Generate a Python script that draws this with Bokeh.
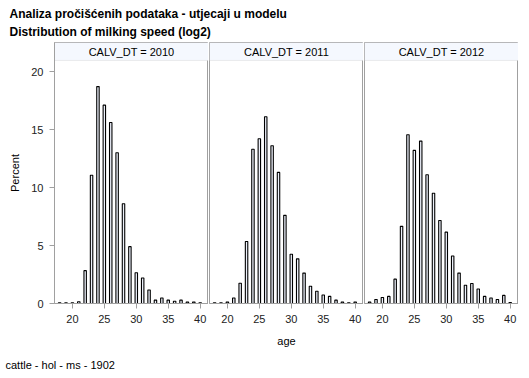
from bokeh.plotting import figure
from bokeh.layouts import column, row
from bokeh.models import Range1d, BoxAnnotation, Label, FixedTicker
from bokeh.core.properties import value
from bokeh.embed import file_html
from bokeh.resources import INLINE

# ---- data ----
title_1 = "Analiza pročišćenih podataka - utjecaji u modelu"
title_2 = "Distribution of milking speed (log2)"
footnote = "cattle - hol - ms - 1902"
panel_labels = ["CALV_DT = 2010", "CALV_DT = 2011", "CALV_DT = 2012"]
ages = list(range(18, 41))
pct_2010 = [0.06, 0.06, 0.06, 0.15, 2.83, 11.05, 18.7, 17.1, 15.6, 13.0, 8.6, 4.9,
            2.65, 2.2, 1.17, 0.29, 0.47, 0.29, 0.2, 0.29, 0.12, 0.12, 0.06]
pct_2011 = [0.06, 0.06, 0.12, 0.47, 1.75, 5.35, 13.3, 14.2, 16.1, 13.6, 11.3, 7.6,
            4.25, 3.85, 2.62, 1.49, 1.05, 0.73, 0.61, 0.29, 0.12, 0.06, 0.12]
pct_2012 = [0.12, 0.35, 0.52, 0.61, 2.1, 6.65, 14.55, 13.2, 14.0, 11.1, 9.5, 7.15,
            6.15, 4.1, 2.62, 1.57, 1.72, 1.25, 0.61, 0.47, 0.35, 0.7, 0.09]
series = [pct_2010, pct_2011, pct_2012]
y_ticks = [0, 5, 10, 15, 20]
x_ticks = [20, 25, 30, 35, 40]

FONT_NAME = "Liberation Sans"
FONT = value(FONT_NAME)
GRAY = "#a0a0a0"


def text_block(w, h):
    f = figure(width=w, height=h, x_range=Range1d(0, w), y_range=Range1d(h, 0),
               x_axis_type=None, y_axis_type=None, toolbar_location=None,
               output_backend="svg", min_border=0, outline_line_color=None,
               title=None)
    f.grid.visible = False
    return f


# ---- title block ----
top = text_block(518, 42)
top.text(x=[9, 9], y=[13, 31], text=[title_1, title_2], text_font=FONT,
         text_font_size="12px", text_font_style="bold", text_baseline="alphabetic",
         text_align="left", text_color="black")

# ---- panels ----
panels = []
for i, (lab, vals) in enumerate(zip(panel_labels, series)):
    first = i == 0
    p = figure(width=208 if first else 155, height=308,
               x_range=Range1d(17.2, 41.3), y_range=Range1d(0, 22.5),
               toolbar_location=None, output_backend="svg", title=None,
               y_axis_type="linear" if first else None,
               min_border_left=54 if first else 1, min_border_right=0,
               min_border_top=0, min_border_bottom=47)
    p.grid.visible = False
    p.outline_line_color = GRAY
    p.background_fill_color = "white"
    p.border_fill_color = "white"

    hdr = BoxAnnotation(bottom=20.95, fill_color="#F5F8FE", fill_alpha=1.0,
                        line_color="#c4c4c4", line_width=1, level="underlay")
    p.add_layout(hdr)
    p.add_layout(Label(x=29.25, y=21.72, text=lab, text_align="center",
                       text_baseline="middle", text_font=FONT_NAME, text_font_size="11px",
                       text_color="black"))

    p.vbar(x=ages, top=vals, bottom=0, width=0.38, fill_color="#EDF1FB",
           line_color="black", line_width=1.1)

    xa = p.xaxis[0]
    xa.ticker = FixedTicker(ticks=x_ticks)
    xa.minor_tick_line_color = None
    xa.major_tick_out = 5
    xa.major_tick_in = 0
    xa.axis_line_color = GRAY
    xa.major_tick_line_color = GRAY
    xa.major_label_text_font = FONT_NAME
    xa.major_label_text_font_size = "11px"
    xa.major_label_text_color = "#222222"
    xa.major_label_standoff = 6
    if i == 1:
        xa.axis_label = "age"
        xa.axis_label_text_font = FONT_NAME
        xa.axis_label_text_font_size = "11px"
        xa.axis_label_text_font_style = "normal"
        xa.axis_label_text_color = "black"
        xa.axis_label_standoff = 9

    if first:
        ya = p.yaxis[0]
        ya.ticker = FixedTicker(ticks=y_ticks)
        ya.minor_tick_line_color = None
        ya.major_tick_out = 5
        ya.major_tick_in = 0
        ya.axis_line_color = GRAY
        ya.major_tick_line_color = GRAY
        ya.major_label_text_font = FONT_NAME
        ya.major_label_text_font_size = "11px"
        ya.major_label_text_color = "#222222"
        ya.major_label_standoff = 6
        ya.axis_label = "Percent"
        ya.axis_label_text_font = FONT_NAME
        ya.axis_label_text_font_size = "11px"
        ya.axis_label_text_font_style = "normal"
        ya.axis_label_text_color = "black"
        ya.axis_label_standoff = 7
    panels.append(p)

# ---- footnote ----
bot = text_block(518, 24)
bot.text(x=[5], y=[14], text=[footnote], text_font=FONT, text_font_size="11px",
         text_baseline="alphabetic", text_align="left", text_color="black")

layout = column(top, row(*panels), bot)
open("out.html", "w").write(file_html(layout, INLINE))
